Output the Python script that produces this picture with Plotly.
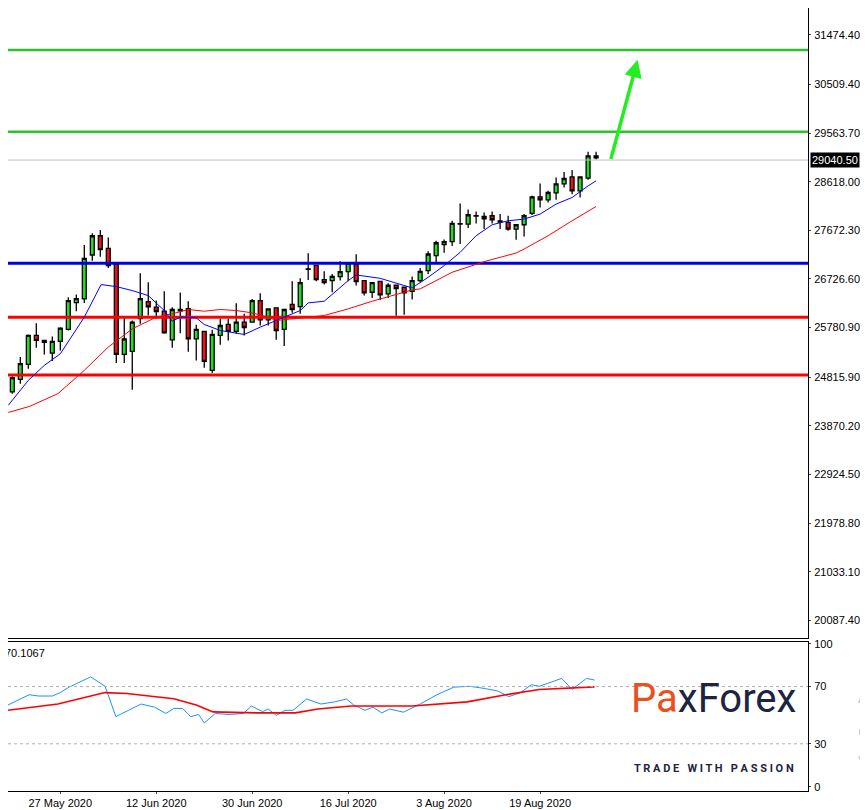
import plotly.graph_objects as go
from plotly.subplots import make_subplots

# velas diarias (indice de barra 1..74)
opens = [24529, 24775, 25066, 25628, 25492, 25285, 25512, 25745, 26268, 26339,
         27193, 27568, 27322, 27012, 25260, 25318, 25958, 26288, 26178, 26100,
         25544, 26133, 26152, 25563, 25706, 24949, 25628, 25842, 25706, 25887,
         25887, 26307, 25932, 26165, 25745, 26230, 26191, 26922, 26993, 26715,
         26695, 26773, 26870, 27006, 26695, 26469, 26682, 26437, 26605, 26566,
         26488, 26695, 26889, 27180, 27394, 27452, 27801, 27795, 27957, 27943,
         27957, 27859, 27827, 27698, 27782, 28002, 28325, 28267, 28402, 28577,
         28713, 28441, 28687, 29120]
highs = [24833, 25208, 25648, 25867, 25531, 25609, 25790, 26372, 26424, 27387,
         27614, 27678, 27536, 27031, 25997, 25919, 26837, 26663, 26307, 26488,
         26178, 26462, 26294, 25835, 25706, 25738, 25952, 25952, 26255, 26049,
         26339, 26449, 26145, 26165, 26133, 26682, 26740, 27226, 27006, 26876,
         26825, 27070, 27051, 27206, 26695, 26656, 26682, 26643, 26605, 26566,
         26773, 26941, 27264, 27471, 27497, 27859, 28196, 28079, 28040, 28021,
         28040, 27989, 27956, 27782, 27989, 28344, 28584, 28441, 28700, 28810,
         28849, 28713, 29204, 29204]
lows = [24496, 24690, 24982, 25389, 25260, 25130, 25337, 25725, 26100, 26262,
        27083, 27161, 26941, 25091, 25091, 24574, 25854, 26016, 25951, 25660,
        25389, 25673, 25311, 25143, 25001, 24897, 25447, 25531, 25660, 25628,
        25887, 25822, 25822, 25544, 25421, 26068, 26049, 26708, 26682, 26618,
        26469, 26695, 26682, 26598, 26404, 26359, 26320, 26359, 26010, 26029,
        26327, 26663, 26825, 27051, 27238, 27368, 27407, 27717, 27808, 27698,
        27808, 27698, 27665, 27491, 27555, 27969, 28118, 28215, 28267, 28506,
        28377, 28312, 28655, 29049]
closes = [24807, 25079, 25628, 25531, 25531, 25512, 25770, 26307, 26346, 27128,
          27568, 27297, 26986, 25260, 25563, 25887, 26346, 26184, 26094, 25680,
          26133, 26107, 25563, 25745, 25124, 25648, 25822, 25706, 25887, 25783,
          26307, 25932, 26145, 25725, 26133, 26133, 26656, 26915, 26715, 26656,
          26779, 26870, 27031, 26676, 26456, 26656, 26417, 26605, 26540, 26456,
          26695, 26876, 27213, 27432, 27452, 27808, 27795, 27976, 27950, 27898,
          27879, 27834, 27698, 27782, 27957, 28325, 28267, 28409, 28577, 28681,
          28441, 28713, 29120, 29082]
bars = list(range(1, len(opens) + 1))

# medias moviles
ma_fast_x = [0.5, 3, 5, 7, 10, 12.1, 14, 16, 18, 20, 21, 22, 24, 25, 27, 30, 32, 34, 37, 38,
             40, 43, 44, 47, 50, 51, 53, 55, 57, 59, 61, 63, 65, 67, 69, 71, 73, 74]
ma_fast_y = [24270, 24755, 25046, 25272, 25984, 26618, 26579, 26501, 26404, 26113, 25906,
             25984, 25971, 25842, 25725, 25648, 25790, 25919, 26113, 26262, 26294, 26695,
             26805, 26740, 26611, 26553, 26760, 26986, 27245, 27568, 27782, 27859, 27892,
             27989, 28183, 28312, 28538, 28635]
ma_slow_x = [0.5, 3.2, 6.7, 10, 13, 16, 19, 21, 23, 25, 27, 29, 31, 33, 34, 37, 40, 43, 46,
             50, 51, 52, 56, 60, 64, 65, 68, 71, 74]
ma_slow_y = [24130, 24251, 24496, 24949, 25402, 25757, 25984, 26049, 26133, 26100, 26133,
             26113, 26068, 25984, 25919, 25971, 26016, 26146, 26294, 26469, 26514, 26534,
             26857, 27064, 27232, 27310, 27568, 27859, 28137]

# niveles
green_levels = [31183, 29592]
blue_level = 27032
red_levels = [25984, 24859]
last_price = 29040.50
arrow_from = (75.8, 29030)
arrow_to = (79.2, 30989)

# RSI
rsi_x = [0.46, 3.1, 4.3, 6.0, 7.0, 8.1, 10.8, 12.6, 13.95, 17.1, 18.8, 20.2, 21.2, 22.3, 23.3,
         24.3, 25.0, 26.4, 28.1, 29.9, 30.9, 32.3, 33.0, 34.0, 35.1, 36.1, 37.8, 39.6, 41.3,
         42.8, 43.7, 45.1, 46.1, 47.2, 48.2, 49.9, 52.0, 54.1, 56.2, 58.2, 60.0, 61.7, 63.1,
         64.5, 65.9, 66.9, 69.7, 71.0, 72.8, 73.8]
rsi_y = [57.1, 64.3, 63.4, 63.4, 65.8, 69.6, 76.8, 70.2, 49.0, 57.8, 55.6, 51.2, 54.7, 54.7,
         49.0, 50.5, 44.6, 51.2, 50.5, 51.2, 56.4, 52.5, 54.3, 49.9, 53.4, 53.4, 61.3, 57.8,
         59.3, 61.3, 57.1, 53.4, 55.6, 51.6, 54.3, 52.1, 57.8, 64.3, 69.6, 70.2, 68.7, 66.9,
         63.0, 65.6, 71.3, 70.2, 75.7, 68.0, 75.7, 74.6]
sig_x = [0.46, 6.7, 12.6, 15.3, 21.2, 24.0, 26.1, 31.6, 36.4, 39.2, 43.4, 51.0, 57.9, 62.7,
         66.9, 73.8]
sig_y = [53.4, 57.8, 65.8, 65.2, 61.5, 57.1, 52.3, 51.6, 51.6, 54.3, 56.4, 56.4, 59.3, 64.3,
         68.0, 69.8]

price_ticks = [31474.40, 30509.40, 29563.70, 28618.00, 27672.30, 26726.60, 25780.90,
               24815.90, 23870.20, 22924.50, 21978.80, 21033.10, 20087.40]
date_ticks = [7, 19, 31, 43, 55, 67]
date_labels = ['27 May 2020', '12 Jun 2020', '30 Jun 2020', '16 Jul 2020', '3 Aug 2020',
               '19 Aug 2020']

FONT = 'Liberation Sans'
XR = [0.46, 100.5]

fig = make_subplots(rows=2, cols=1, shared_xaxes=True)

for lv in green_levels:
    fig.add_trace(go.Scatter(x=XR, y=[lv, lv], mode='lines', line=dict(color='#2fc02f', width=2.5),
                             hoverinfo='skip'), row=1, col=1)
fig.add_trace(go.Scatter(x=XR, y=[blue_level] * 2, mode='lines', line=dict(color='#0000dd', width=3),
                         hoverinfo='skip'), row=1, col=1)
for lv in red_levels:
    fig.add_trace(go.Scatter(x=XR, y=[lv, lv], mode='lines', line=dict(color='#ff0000', width=3),
                             hoverinfo='skip'), row=1, col=1)
fig.add_trace(go.Scatter(x=XR, y=[last_price] * 2, mode='lines', line=dict(color='#c0c0c0', width=1),
                         hoverinfo='skip'), row=1, col=1)

fig.add_trace(go.Scatter(x=ma_slow_x, y=ma_slow_y, mode='lines', line=dict(color='#ff0000', width=1)),
              row=1, col=1)
fig.add_trace(go.Scatter(x=ma_fast_x, y=ma_fast_y, mode='lines', line=dict(color='#0000ff', width=1)),
              row=1, col=1)

fig.add_trace(go.Candlestick(
    x=bars, open=opens, high=highs, low=lows, close=closes, whiskerwidth=0,
    increasing=dict(fillcolor='#22dd22', line=dict(color='black', width=1.3)),
    decreasing=dict(fillcolor='#ee1111', line=dict(color='black', width=1.3))), row=1, col=1)

fig.add_trace(go.Scatter(x=rsi_x, y=rsi_y, mode='lines', line=dict(color='#1e90ff', width=1)),
              row=2, col=1)
fig.add_trace(go.Scatter(x=sig_x, y=sig_y, mode='lines', line=dict(color='#ff0000', width=1.6)),
              row=2, col=1)
for lv in [70, 30]:
    fig.add_trace(go.Scatter(x=XR, y=[lv, lv], mode='lines',
                             line=dict(color='#b0b0b0', width=1, dash='dot')), row=2, col=1)

fig.add_annotation(x=arrow_to[0], y=arrow_to[1], ax=arrow_from[0], ay=arrow_from[1],
                   xref='x', yref='y', axref='x', ayref='y', showarrow=True, text='',
                   arrowhead=2, arrowsize=1, arrowwidth=3.5, arrowcolor='#22ee22')

fig.update_xaxes(range=XR, showgrid=False, zeroline=False, rangeslider_visible=False,
                 showline=True, linecolor='black', mirror=True)
fig.update_xaxes(showticklabels=False, row=1, col=1)
fig.update_xaxes(tickvals=date_ticks, ticktext=date_labels, ticks='outside', ticklen=2,
                 ticklabelstandoff=0,
                 tickfont=dict(family=FONT, size=11, color='black'), row=2, col=1)
fig.update_yaxes(side='right', showgrid=False, zeroline=False, showline=True, linecolor='black',
                 mirror=True, ticks='outside', ticklen=2, ticklabelstandoff=1,
                 tickfont=dict(family=FONT, size=11, color='black'))
fig.update_yaxes(range=[19737, 31998], domain=[0.195, 1], tickvals=price_ticks,
                 ticktext=['%.2f' % v for v in price_ticks], row=1, col=1)
fig.update_yaxes(range=[-3, 101], domain=[0, 0.19], tickvals=[100, 70, 30, 0], row=2, col=1)

fig.add_annotation(x=1, y=last_price, xref='paper', yref='y', xanchor='left', showarrow=False,
                   text='29040.50', bgcolor='black', font=dict(family=FONT, size=11, color='white'),
                   xshift=2, borderpad=1)
fig.add_annotation(x=0, y=1, xref='paper', yref='y2 domain', xanchor='left', yanchor='top',
                   showarrow=False, text='70.1067', xshift=-5, yshift=-3,
                   font=dict(family=FONT, size=11, color='black'))

# logo
fig.add_annotation(x=0.987, y=0.085, xref='paper', yref='paper', xanchor='right', showarrow=False,
                   text="<span style='color:#e8501e'>Pa</span><span style='color:#1b2440'>x</span>"
                        "<span style='color:#1b2440'>Forex</span>",
                   font=dict(family='Roboto', size=40))
fig.add_annotation(x=0.985, y=0.018, xref='paper', yref='paper', xanchor='right', showarrow=False,
                   text='<b>T R A D E   W I T H   P A S S I O N</b>',
                   font=dict(family='Roboto', size=11, color='#1b2440'))
for txt, yy, sz in [('Ar', 0.105, 20), ('Чт', 0.06, 14), ('"П', 0.025, 14)]:
    fig.add_annotation(x=1.06, y=yy, xref='paper', yref='paper', xanchor='left', showarrow=False,
                       text=txt, font=dict(family=FONT, size=sz, color='#c8c8c8'))

fig.update_layout(width=868, height=810, showlegend=False, plot_bgcolor='white',
                  paper_bgcolor='white',
                  margin=dict(l=0, r=68, t=0, b=27, autoexpand=False))

fig.write_html("out.html")
